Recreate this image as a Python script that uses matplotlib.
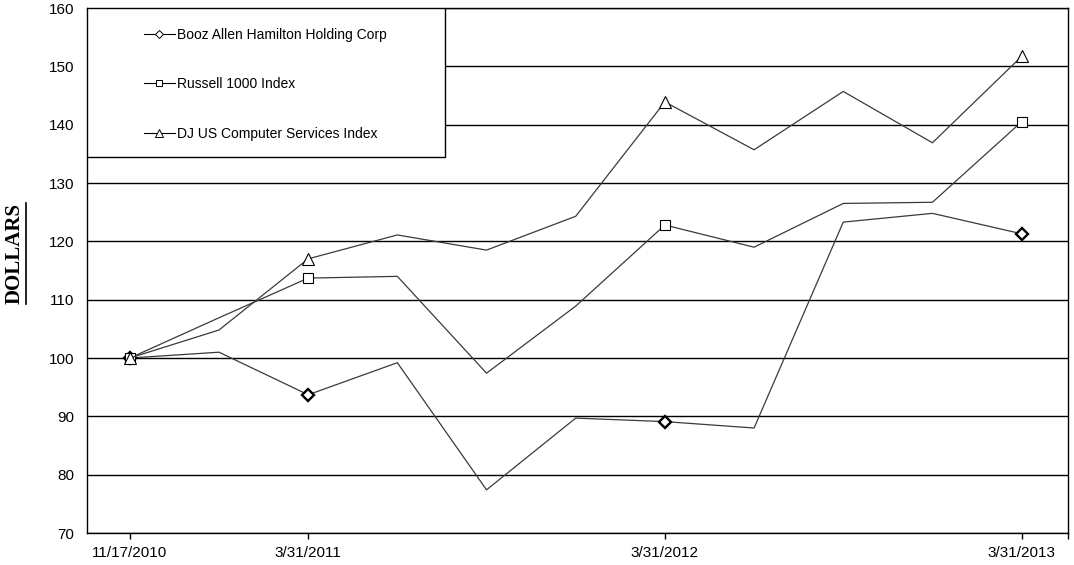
import matplotlib
matplotlib.use("Agg")
import matplotlib.pyplot as plt
from matplotlib.lines import Line2D
from matplotlib.patches import Rectangle

plt.rcParams['font.family'] = ['Liberation Sans', 'DejaVu Sans']

# quarterly points, only some of them labelled
dates = ['11/17/2010', '12/31/2010', '3/31/2011', '6/30/2011', '9/30/2011', '12/31/2011',
         '3/31/2012', '6/30/2012', '9/30/2012', '12/31/2012', '3/31/2013']
shown = ['11/17/2010', '3/31/2011', '3/31/2012', '3/31/2013']

booz = [100, 101.0, 93.7, 99.2, 77.4, 89.7, 89.1, 88.0, 123.3, 124.8, 121.3]
russell = [100, 106.9, 113.7, 114.0, 97.4, 108.9, 122.8, 119.0, 126.5, 126.7, 140.5]
djcs = [100, 104.8, 117.0, 121.1, 118.5, 124.3, 143.9, 135.7, 145.7, 136.9, 151.7]

names = ['Booz Allen Hamilton Holding Corp', 'Russell 1000 Index', 'DJ US Computer Services Index']

fig = plt.figure(figsize=(10.74, 5.65), dpi=100)
ax = fig.add_axes([0.081, 0.0566, 0.9134, 0.9292])

x = list(range(len(dates)))
mark_at = [dates.index(d) for d in shown]
line_col = '#3a3a3a'

ax.plot(x, booz, color=line_col, lw=0.9, marker='D', ms=6.5, mfc='white', mec='black', mew=1.7,
        markevery=mark_at, zorder=4)
ax.plot(x, russell, color=line_col, lw=0.9, marker='s', ms=7.8, mfc='white', mec='black', mew=0.8,
        markevery=mark_at, zorder=4)
ax.plot(x, djcs, color=line_col, lw=0.9, marker='^', ms=8.5, mfc='white', mec='black', mew=0.8,
        markevery=mark_at, zorder=4)

ax.set_xlim(-0.48, 10.52)
ax.set_ylim(70, 160)
ax.set_yticks(range(70, 161, 10))
ax.set_xticks(mark_at)
ax.set_xticklabels(shown)
ax.set_xticks([10.52], minor=True)
ax.yaxis.grid(True, color='black', lw=1.0)
ax.set_axisbelow(True)
ax.tick_params(axis='y', length=0, pad=9, labelsize=11)
ax.tick_params(axis='x', which='both', length=4, width=1, direction='out', pad=5, labelsize=11)
for s in ax.spines.values():
    s.set_linewidth(1.0)
    s.set_color('black')

ylab = fig.text(0.014, 1 - 253 / 565.0, 'DOLLARS', rotation=90, fontsize=15, family='Liberation Serif',
                weight='bold', ha='center', va='center')

#------------------- legend box -------------------
ax.add_patch(Rectangle((0, 1 - 0.284), 0.365, 0.284, transform=ax.transAxes, facecolor='white',
                       edgecolor='black', lw=1.0, zorder=5))
handles = [Line2D([], [], color='black', lw=0.8, marker='D', ms=4, mfc='white', mec='black', mew=0.7),
           Line2D([], [], color='black', lw=0.8, marker='s', ms=5, mfc='white', mec='black', mew=0.7),
           Line2D([], [], color='black', lw=0.8, marker='^', ms=5.5, mfc='white', mec='black', mew=0.7)]
leg = ax.legend(handles, names, loc='upper left', bbox_to_anchor=(0.054, 0.97), frameon=False,
                fontsize=10, handlelength=2.2, handletextpad=0.2, labelspacing=2.55,
                borderaxespad=0, borderpad=0.3)
leg.set_zorder(6)

# underline for the rotated label (sits on its right side)
fig.canvas.draw()
bb = ylab.get_window_extent().transformed(fig.transFigure.inverted())
ux = bb.x1 + 0.5 / 1074
fig.add_artist(Line2D([ux, ux], [bb.y0, bb.y1], color='black', lw=1.2, transform=fig.transFigure))

fig.savefig('out.png', dpi=100)
